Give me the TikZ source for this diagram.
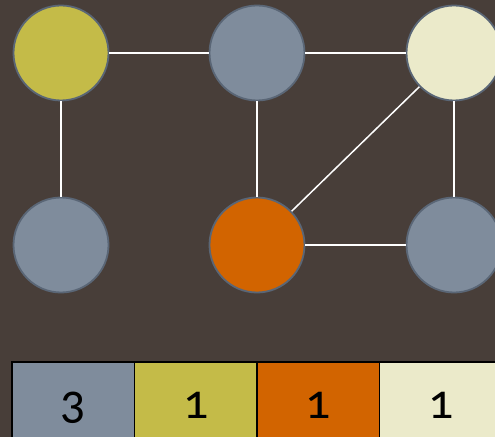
\documentclass[tikz,border=0pt]{standalone}
\usepackage{fontspec}
\setmainfont{Carlito}[Numbers=OldStyle]
\definecolor{bgc}{HTML}{483E39}
\definecolor{slate}{HTML}{7F8C9C}
\definecolor{olive}{HTML}{C4BB48}
\definecolor{rust}{HTML}{D26400}
\definecolor{cream}{HTML}{EBEACA}
\definecolor{rim}{HTML}{5A6676}
\tikzset{
  vert/.style={circle, draw=rim, line width=1.8bp, minimum size=95bp, inner sep=0pt},
  edge/.style={draw=white, line width=1.5bp},
  cell/.style={draw=black, line width=1.6bp},
  num/.style={font=\fontsize{50}{50}\selectfont, text=black, anchor=base}
}
\begin{document}
\begin{tikzpicture}[x=1bp,y=-1bp]
  \useasboundingbox (0,0) rectangle (495,437);
  \fill[bgc] (0,0) rectangle (495,437);
  \clip (0,0) rectangle (495,437);
  % graph vertices
  \node[vert, fill=olive] (a) at (61,53) {};
  \node[vert, fill=slate] (b) at (257,53) {};
  \node[vert, fill=cream] (c) at (454,53) {};
  \node[vert, fill=slate] (d) at (61,245) {};
  \node[vert, fill=rust]  (e) at (257,245) {};
  \node[vert, fill=slate] (f) at (454,245) {};
  % edges
  \path[edge] (a) -- (b);
  \path[edge] (b) -- (c);
  \path[edge] (a) -- (d);
  \path[edge] (b) -- (e);
  \path[edge] (c) -- (f);
  \path[edge] (e) -- (f);
  \path[edge] (e) -- (c);
  % colour counts
  \path[cell, fill=slate] (12,362) rectangle (134.5,450);
  \path[cell, fill=olive] (134.5,362) rectangle (257,450);
  \path[cell, fill=rust]  (257,362) rectangle (379.5,450);
  \path[cell, fill=cream] (379.5,362) rectangle (502,450);
  \node[num] (n1) at (73,418) {3};
  \node[num] (n2) at (196,418) {1};
  \node[num] (n3) at (318,418) {1};
  \node[num] (n4) at (441,418) {1};
\end{tikzpicture}
\end{document}
